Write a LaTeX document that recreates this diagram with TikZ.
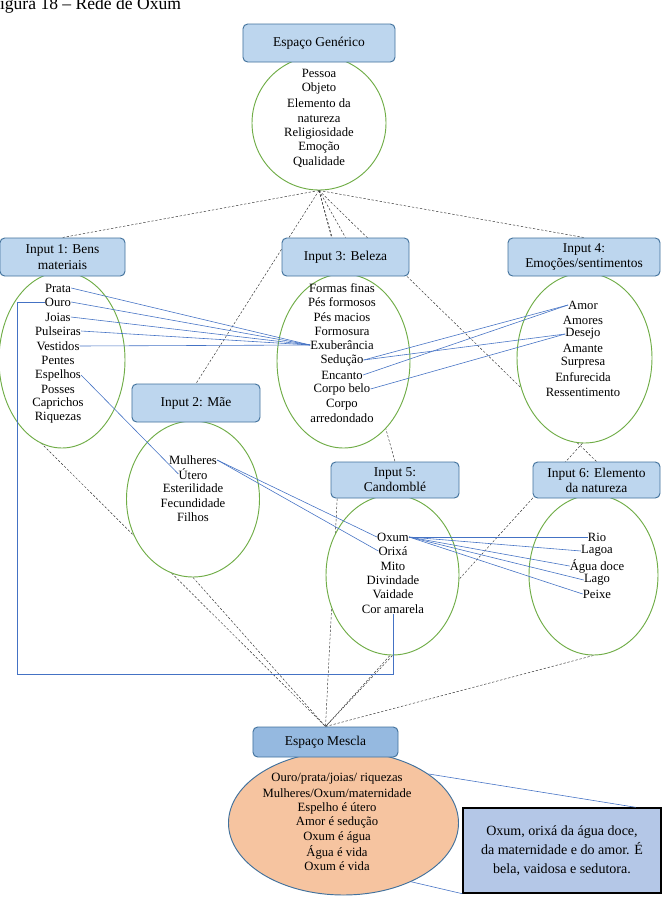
\documentclass[tikz,border=0pt]{standalone}
\usepackage{fontspec}
\setmainfont{Liberation Serif}
\usetikzlibrary{shapes.geometric, backgrounds}
\definecolor{boxblue}{RGB}{189,214,238}
\definecolor{boxedge}{RGB}{65,113,156}
\definecolor{mixblue}{RGB}{149,185,224}
\definecolor{ringgreen}{RGB}{112,173,71}
\definecolor{linkblue}{RGB}{68,114,196}
\definecolor{peach}{RGB}{246,196,160}
\definecolor{noteblue}{RGB}{180,199,231}

\begin{document}
\begin{tikzpicture}[
    x=0.03cm, y=-0.03cm,
    box/.style={rectangle, rounded corners=4pt, draw=boxedge, fill=boxblue, line width=0.8pt, minimum height=1.14cm, align=center, font=\fontsize{11.5}{13}\selectfont, inner sep=0pt},
    space/.style={ellipse, draw=ringgreen, fill=white, line width=0.8pt, inner sep=0pt},
    item/.style={inner sep=0pt, align=center, font=\fontsize{10.8}{12.6}\selectfont},
    link/.style={linkblue, line width=0.5pt},
    guide/.style={dash pattern=on 2pt off 1.5pt, line width=0.4pt, black!80}
]
    \useasboundingbox (0,0) rectangle (667,918);

    % Title
    \node[anchor=base west, inner sep=0pt, font=\fontsize{15}{18}\selectfont] (title) at (-10,9) {Figura 18 – Rede de Oxum};

    % Generic space
    \node[space, minimum width=4.02cm, minimum height=4.02cm] (gen) at (319,123) {};
    \node[box, minimum width=4.56cm] (genbox) at (319,43) {Espaço Genérico};
    \node[item] (pessoa) at (319,73) {Pessoa};
    \node[item] (objeto) at (319,88) {Objeto};
    \node[item] (elemento) at (319,110.5) {Elemento da\\natureza};
    \node[item] (relig) at (319,133) {Religiosidade};
    \node[item] (emocao) at (319,148) {Emoção};
    \node[item] (qualidade) at (319,162) {Qualidade};

    % Input 1
    \node[space, minimum width=3.78cm, minimum height=5.28cm] (s1) at (62,360) {};
    \node[box, minimum width=3.75cm] (in1) at (62.5,257) {Input 1: Bens\\materiais};
    \node[item] (prata) at (58,288) {Prata};
    \node[item] (ouro) at (58,302) {Ouro};
    \node[item] (joias) at (58,317) {Joias};
    \node[item] (pulseiras) at (58,331) {Pulseiras};
    \node[item] (vestidos) at (58,346) {Vestidos};
    \node[item] (pentes) at (58,360) {Pentes};
    \node[item] (espelhos) at (58,375) {Espelhos};
    \node[item] (posses) at (58,389) {Posses};
    \node[item] (caprichos) at (58,403) {Caprichos};
    \node[item] (riquezas) at (58,418) {Riquezas};

    % Input 3
    \node[space, minimum width=3.99cm, minimum height=5.22cm] (s3) at (343.5,361) {};
    \node[box, minimum width=3.81cm] (in3) at (345.5,257) {Input 3: Beleza};
    \node[item] (formas) at (342,288) {Formas finas};
    \node[item] (pesform) at (342,302) {Pés formosos};
    \node[item] (pesmac) at (342,317) {Pés macios};
    \node[item] (formosura) at (342,331) {Formosura};
    \node[item] (exub) at (342,345) {Exuberância};
    \node[item] (seducao) at (342,360) {Sedução};
    \node[item] (encanto) at (342,375) {Encanto};
    \node[item] (corpobelo) at (342,389) {Corpo belo};
    \node[item] (corpo) at (342,410.5) {Corpo\\arredondado};

    % Input 4
    \node[space, minimum width=4.05cm, minimum height=5.1cm] (s4) at (584.5,358) {};
    \node[box, minimum width=4.56cm] (in4) at (584,257) {Input 4:\\Emoções/sentimentos};
    \node[item] (amor) at (583,305) {Amor};
    \node[item] (amores) at (583,320) {Amores};
    \node[item] (desejo) at (583,334) {Desejo};
    \node[item] (amante) at (583,348) {Amante};
    \node[item] (surpresa) at (583,363) {Surpresa};
    \node[item] (enfurecida) at (583,377) {Enfurecida};
    \node[item] (ressent) at (583,392) {Ressentimento};

    % Input 2
    \node[space, minimum width=3.99cm, minimum height=4.68cm] (s2) at (193,499) {};
    \node[box, minimum width=3.84cm] (in2) at (196,403) {Input 2: Mãe};
    \node[item] (mulheres) at (193,460) {Mulheres};
    \node[item] (utero) at (193,474) {Útero};
    \node[item] (esteril) at (193,488) {Esterilidade};
    \node[item] (fecund) at (193,503) {Fecundidade};
    \node[item] (filhos) at (193,517) {Filhos};

    % Input 5
    \node[space, minimum width=3.99cm, minimum height=4.8cm] (s5) at (392.5,575) {};
    \node[box, minimum width=3.84cm, minimum height=1.08cm] (in5) at (395,480) {Input 5:\\Candomblé};
    \node[item] (oxum) at (393,537) {Oxum};
    \node[item] (orixa) at (393,551) {Orixá};
    \node[item] (mito) at (393,566) {Mito};
    \node[item] (divind) at (393,580) {Divindade};
    \node[item] (vaidade) at (393,594) {Vaidade};
    \node[item] (coramarela) at (393,609) {Cor amarela};

    % Input 6
    \node[space, minimum width=3.87cm, minimum height=4.8cm] (s6) at (593.5,575) {};
    \node[box, minimum width=3.81cm, minimum height=1.08cm] (in6) at (596.5,480) {Input 6: Elemento\\da natureza};
    \node[item] (rio) at (597,537) {Rio};
    \node[item] (lagoa) at (597,551) {Lagoa};
    \node[item] (aguadoce) at (597,566) {Água doce};
    \node[item] (lago) at (597,580) {Lago};
    \node[item] (peixe) at (597,594) {Peixe};

    % Blended space
    \node[space, draw=boxedge, fill=peach, minimum width=6.9cm, minimum height=4.32cm] (s7) at (343.5,823) {};
    \node[box, fill=mixblue, minimum width=4.35cm, minimum height=0.9cm] (mes) at (325.5,742) {Espaço Mescla};
    \node[item] (m1) at (337,779) {Ouro/prata/joias/ riquezas};
    \node[item] (m2) at (337,793) {Mulheres/Oxum/maternidade};
    \node[item] (m3) at (337,808) {Espelho é útero};
    \node[item] (m4) at (337,822) {Amor é sedução};
    \node[item] (m5) at (337,837) {Oxum é água};
    \node[item] (m6) at (337,852) {Água é vida};
    \node[item] (m7) at (337,866) {Oxum é vida};

    % Note
    \node[rectangle, draw=black, fill=noteblue, line width=1.2pt, minimum width=5.94cm, minimum height=2.55cm, align=center, font=\fontsize{12}{16}\selectfont] (note) at (562,850.5) {Oxum, orixá da água doce,\\da maternidade e do amor. É\\bela, vaidosa e sedutora.};
    \draw[link] (s7.30) -- ([xshift=-0.78cm]note.north east);
    \draw[link] (s7.-41) -- (note.south west);

    % Dashed links (behind the spaces)
    \coordinate (x1) at (38,440);
    \coordinate (x4) at (599,425);
    \begin{pgfonlayer}{background}
        \draw[guide] (gen.south) -- (in1.north);
        \draw[guide] (gen.south) -- (in2.north);
        \draw[guide] (gen.south) -- ([xshift=-0.42cm]in3.north);
        \draw[guide] (gen.south) -- (in3.north);
        \draw[guide] (gen.south) -- (in4.north);
        \draw[guide] (gen.south) -- (in5.north);
        \draw[guide] (gen.south) -- (in6.north);
        \draw[guide] (x1) -- (mes.north);
        \draw[guide] (s2.south) -- (mes.north);
        \draw[guide] ([xshift=0.2cm]in5.south west) -- (mes.north);
        \draw[guide] (s5.south) -- (mes.north);
        \draw[guide] (x4) -- (mes.north);
        \draw[guide] (s6.south) -- (mes.north);
    \end{pgfonlayer}

    % Blue links
    \draw[link] (prata.east) -- (exub.west);
    \draw[link] (ouro.east) -- (exub.west);
    \draw[link] (joias.east) -- (exub.west);
    \draw[link] (pulseiras.east) -- (exub.west);
    \draw[link] (vestidos.east) -- (exub.west);
    \draw[link] (espelhos.east) -- (utero.west);
    \draw[link] (mulheres.east) -- (oxum.west);
    \draw[link] (mulheres.east) -- (orixa.west);
    \draw[link] (seducao.east) -- (amor.west);
    \draw[link] (seducao.east) -- (desejo.west);
    \draw[link] (encanto.east) -- (amor.west);
    \draw[link] (corpobelo.east) -- (desejo.west);
    \draw[link] (oxum.east) -- (rio.west);
    \draw[link] (oxum.east) -- (lagoa.west);
    \draw[link] (oxum.east) -- (aguadoce.west);
    \draw[link] (oxum.east) -- (lago.west);
    \draw[link] (oxum.east) -- (peixe.west);
    \coordinate (bend) at (17,674);
    \draw[link] (ouro.west) -| (bend) -| (coramarela.south);
\end{tikzpicture}
\end{document}
